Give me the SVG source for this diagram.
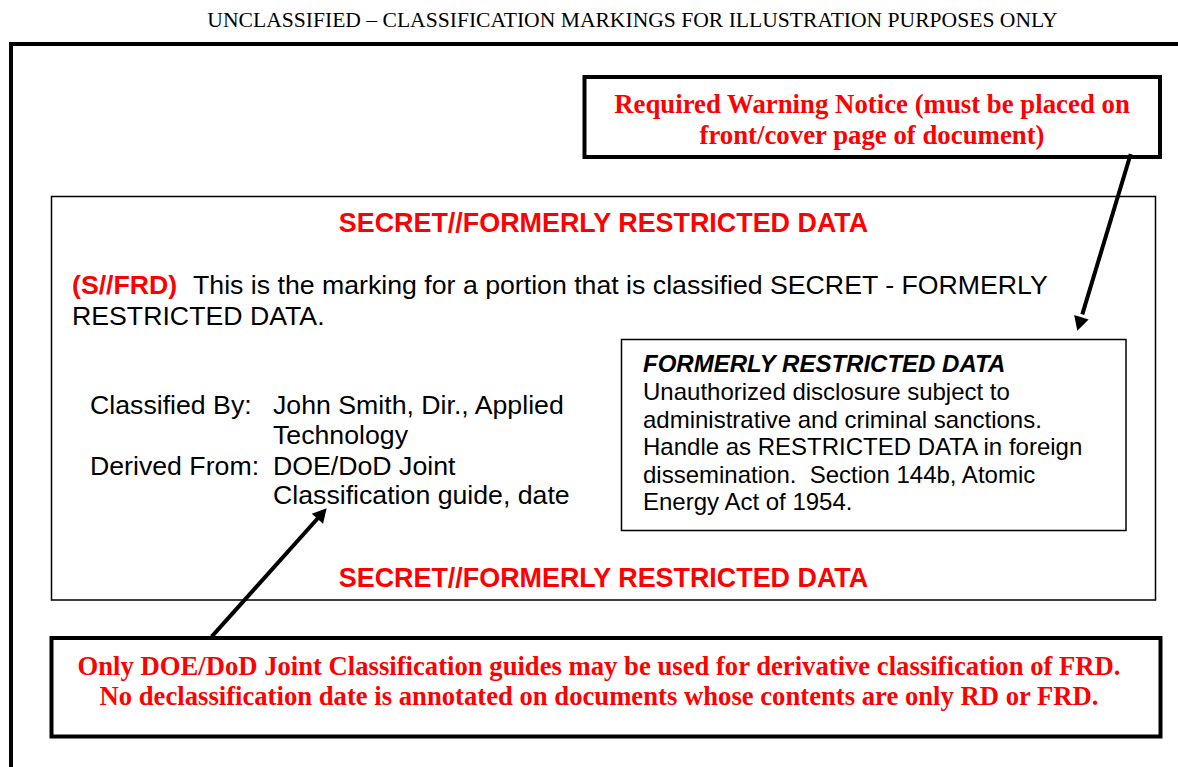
<svg xmlns="http://www.w3.org/2000/svg" width="1178" height="767" viewBox="0 0 1178 767">
  <style>
    .serif { font-family: "Liberation Serif", "Times New Roman", serif; }
    .sans { font-family: "Liberation Sans", Arial, sans-serif; }
    .red { fill: #FF0000; }
    .blk { fill: #000000; }
    .thick { fill: #FFFFFF; stroke: #000000; stroke-width: 4; }
    .thin { fill: #FFFFFF; stroke: #000000; stroke-width: 1.5; }
    .conn { stroke: #000000; stroke-width: 4; fill: none; }
    .head { fill: #000000; stroke: none; }
  </style>
  <rect x="0" y="0" width="1178" height="767" fill="#FFFFFF"/>

  <g id="header">
    <text class="serif blk" x="632.5" y="27.3" font-size="21.6" text-anchor="middle">UNCLASSIFIED – CLASSIFICATION MARKINGS FOR ILLUSTRATION PURPOSES ONLY</text>
  </g>

  <g id="page-frame">
    <polyline points="11,780 11,44 1190,44" fill="none" stroke="#000000" stroke-width="4"/>
  </g>

  <g id="warning-notice">
    <rect class="thick" x="584.5" y="77" width="575.5" height="80"/>
    <text class="serif red" x="872" y="113" font-size="26.8" font-weight="bold" text-anchor="middle">Required Warning Notice (must be placed on</text>
    <text class="serif red" x="872" y="144" font-size="26.8" font-weight="bold" text-anchor="middle">front/cover page of document)</text>
  </g>

  <g id="document-page">
    <rect class="thin" x="51.5" y="196.5" width="1104" height="403.5"/>
    <text class="sans red" x="603.5" y="232" font-size="26.9" font-weight="bold" text-anchor="middle">SECRET//FORMERLY RESTRICTED DATA</text>
    <text class="sans blk" x="72" y="294" font-size="26.7"><tspan class="red" font-weight="bold">(S//FRD)</tspan><tspan x="193">This is the marking for a portion that is classified SECRET - FORMERLY</tspan></text>
    <text class="sans blk" x="72" y="325" font-size="26.7">RESTRICTED DATA.</text>
    <text class="sans red" x="603.5" y="587" font-size="26.9" font-weight="bold" text-anchor="middle">SECRET//FORMERLY RESTRICTED DATA</text>
  </g>

  <g id="classification-block">
    <text class="sans blk" x="90" y="414" font-size="26.7">Classified By:</text>
    <text class="sans blk" x="273" y="414" font-size="26.7">John Smith, Dir., Applied</text>
    <text class="sans blk" x="273" y="444" font-size="26.7">Technology</text>
    <text class="sans blk" x="90" y="474.5" font-size="26.7">Derived From:</text>
    <text class="sans blk" x="273" y="474.5" font-size="26.7">DOE/DoD Joint</text>
    <text class="sans blk" x="273" y="504" font-size="26.7">Classification guide, date</text>
  </g>

  <g id="frd-notice">
    <rect class="thin" x="621.5" y="339.5" width="504.5" height="191"/>
    <text class="sans blk" x="643" y="372" font-size="24" font-weight="bold" font-style="italic">FORMERLY RESTRICTED DATA</text>
    <text class="sans blk" x="643" y="400" font-size="24">Unauthorized disclosure subject to</text>
    <text class="sans blk" x="643" y="427.5" font-size="24">administrative and criminal sanctions.</text>
    <text class="sans blk" x="643" y="455" font-size="24">Handle as RESTRICTED DATA in foreign</text>
    <text class="sans blk" x="643" y="482.5" font-size="24" xml:space="preserve">dissemination.  Section 144b, Atomic</text>
    <text class="sans blk" x="643" y="510" font-size="24">Energy Act of 1954.</text>
  </g>

  <g id="guidance-notice">
    <rect class="thick" x="51.5" y="638" width="1109" height="98.5"/>
    <text class="serif red" x="599" y="675" font-size="27.5" font-weight="bold" text-anchor="middle" textLength="1043" lengthAdjust="spacingAndGlyphs">Only DOE/DoD Joint Classification guides may be used for derivative classification of FRD.</text>
    <text class="serif red" x="599" y="705" font-size="27.5" font-weight="bold" text-anchor="middle" textLength="999" lengthAdjust="spacingAndGlyphs">No declassification date is annotated on documents whose contents are only RD or FRD.</text>
  </g>

  <g id="connectors">
    <g id="arrow-warning-to-frd">
      <line class="conn" x1="1130.7" y1="154" x2="1082.3" y2="314.3"/>
      <polygon class="head" points="1077.3,330.7 1088.6,319.5 1074.2,315.1"/>
    </g>
    <g id="arrow-guidance-to-derived">
      <line class="conn" x1="211.7" y1="636.7" x2="319.4" y2="516.5"/>
      <polygon class="head" points="326.7,508.3 323.0,523.7 311.8,513.7"/>
    </g>
  </g>
</svg>
